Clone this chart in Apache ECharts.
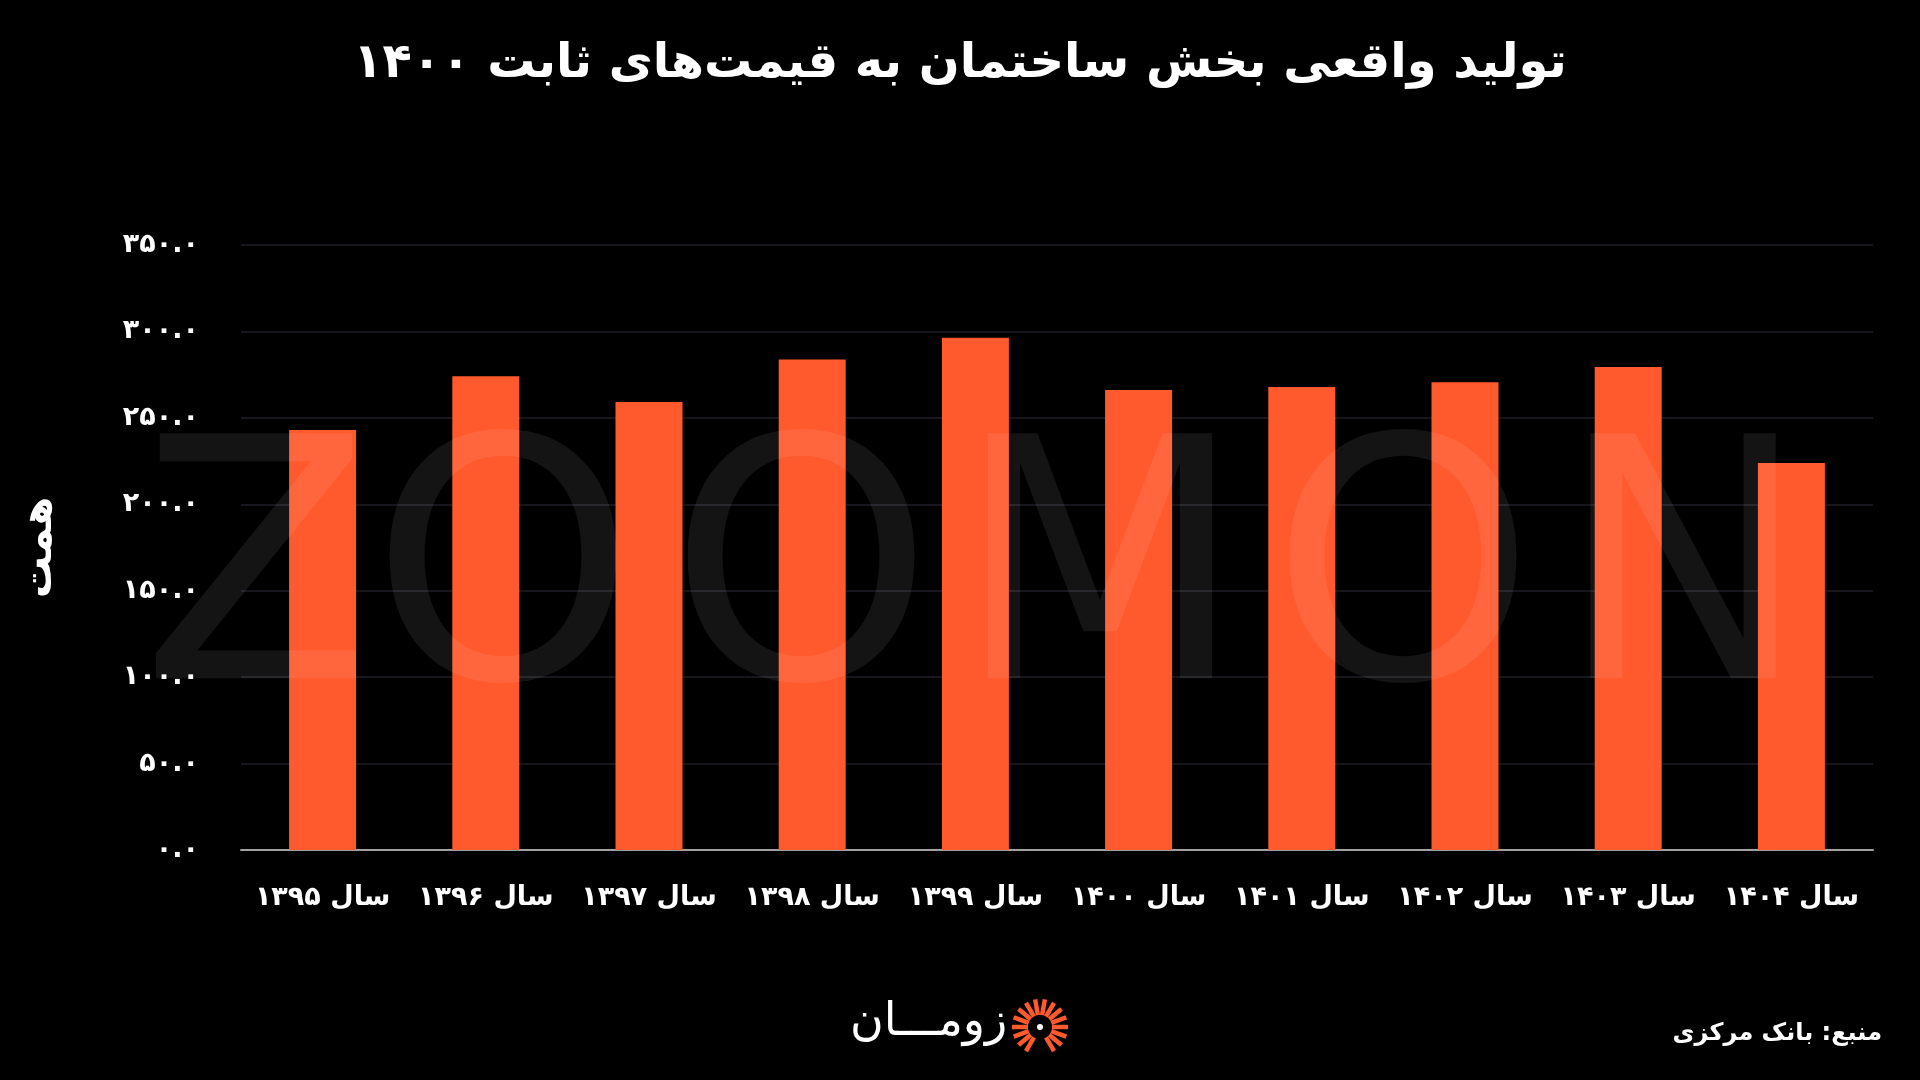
<!DOCTYPE html>
<html>
<head>
<meta charset="utf-8">
<title>تولید واقعی بخش ساختمان</title>
<script src="https://cdn.jsdelivr.net/npm/echarts@6/dist/echarts.min.js"></script>
<style>
    html, body { margin: 0; padding: 0; background: #000; }
    #main { width: 1920px; height: 1080px; }
</style>
</head>
<body>
<div id="main"></div>
<script>
    // سال‌ها
    const years = ['سال ۱۳۹۵', 'سال ۱۳۹۶', 'سال ۱۳۹۷', 'سال ۱۳۹۸', 'سال ۱۳۹۹',
                   'سال ۱۴۰۰', 'سال ۱۴۰۱', 'سال ۱۴۰۲', 'سال ۱۴۰۳', 'سال ۱۴۰۴']
    // تولید واقعی (همت)
    const values = [243.0, 274.1, 259.2, 283.7, 296.3, 266.1, 267.8, 270.6, 279.4, 223.9]
    // محور عمودی
    const yMin = 0
    const yMax = 350
    const yStep = 50

    const FONT = '"DejaVu Sans", sans-serif'
    const faDigits = '۰۱۲۳۴۵۶۷۸۹'
    const toFa = s => String(s).replace(/[0-9]/g, d => faDigits[d])

    // واترمارک، حرف به حرف
    const wmLetters = ['Z', 'O', 'O', 'M', 'O', 'N']
    const wmCenters = [256, 503, 801, 1100, 1403, 1683]
    const watermark = wmLetters.map((ch, i) => ({
        type: 'text',
        x: wmCenters[i],
        y: 423,
        z: 100,
        silent: true,
        style: {
            text: ch,
            align: 'center',
            verticalAlign: 'top',
            fill: 'rgba(255,255,255,0.08)',
            fontSize: 336,
            fontFamily: FONT
        }
    }))

    // لوگو: پرتوهای نارنجی
    const rays = []
    const cx = 1040, cy = 1027
    for (let a = -150; a <= 150; a += 20) {
        const r = a * Math.PI / 180
        rays.push({
            type: 'line',
            silent: true,
            shape: {
                x1: cx + Math.sin(r) * 12, y1: cy - Math.cos(r) * 12,
                x2: cx + Math.sin(r) * 28, y2: cy - Math.cos(r) * 28
            },
            style: { stroke: '#ff5a2d', lineWidth: 4.5 }
        })
    }

    const chart = echarts.init(document.getElementById('main'))
    chart.setOption({
        backgroundColor: '#000',
        animation: false,
        title: {
            text: 'تولید واقعی بخش ساختمان به قیمت‌های ثابت ۱۴۰۰',
            left: 'center',
            top: 36,
            textStyle: { color: '#fff', fontSize: 48, fontWeight: 'bold', fontFamily: FONT }
        },
        grid: { left: 241, right: 47, top: 245, bottom: 230 },
        xAxis: {
            type: 'category',
            data: years,
            axisLine: { lineStyle: { color: '#a0a0a0', width: 2 } },
            axisTick: { show: false },
            axisLabel: { interval: 0, color: '#fff', fontSize: 27, fontWeight: 'bold', fontFamily: FONT, margin: 34 }
        },
        yAxis: {
            type: 'value',
            min: yMin,
            max: yMax,
            interval: yStep,
            name: 'همت',
            nameLocation: 'middle',
            nameGap: 180,
            nameTextStyle: { color: '#fff', fontSize: 42, fontWeight: 'bold', fontFamily: FONT },
            axisLine: { show: false },
            axisTick: { show: false },
            splitLine: { lineStyle: { color: '#1c1f26', width: 1.5 } },
            axisLabel: {
                color: '#fff', fontSize: 27, fontWeight: 'bold', fontFamily: FONT, margin: 42,
                formatter: v => toFa(v.toFixed(1))
            }
        },
        series: [
            {
                type: 'bar',
                data: values,
                barWidth: 67,
                itemStyle: { color: '#ff5a2d' }
            }
        ],
        graphic: [
            ...watermark,
            {
                type: 'text',
                right: 38,
                top: 1022,
                style: {
                    text: 'منبع: بانک مرکزی',
                    fill: '#fff',
                    fontSize: 24,
                    fontWeight: 'bold',
                    fontFamily: FONT
                }
            },
            {
                type: 'text',
                left: 850,
                top: 1000,
                style: {
                    text: 'زومـــان',
                    fill: '#fff',
                    fontSize: 46,
                    fontFamily: FONT
                }
            },
            ...rays,
            {
                type: 'circle',
                shape: { cx: cx, cy: cy, r: 3 },
                style: { fill: '#fff' }
            }
        ]
    })
</script>
</body>
</html>
